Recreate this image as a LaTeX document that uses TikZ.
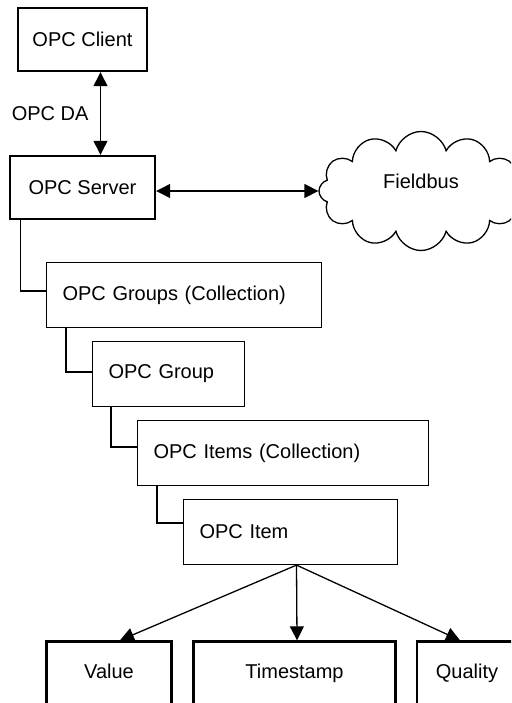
\documentclass[tikz,border=0pt]{standalone}
\usepackage{fontspec}
\setmainfont{Liberation Sans}
\usetikzlibrary{shapes.symbols,arrows.meta,positioning}

\begin{document}
\begin{tikzpicture}[x=1pt,y=-1pt,
  font=\fontsize{20}{24}\selectfont,
  >={Triangle[length=14pt,width=14pt]},
  endpoint/.style={rectangle,draw,line width=2.4pt,minimum height=63pt,align=center},
  object/.style={rectangle,draw,line width=1.2pt,minimum height=65pt,inner xsep=16pt,align=left},
  leaf/.style={rectangle,draw,line width=2.4pt,minimum height=63pt,align=center,text height=15pt,text depth=4pt},
  link/.style={line width=1.3pt},
]
\useasboundingbox (0,0) rectangle (511,703);
\clip (0,0) rectangle (511,703);

\node[endpoint,minimum width=129pt] (client) at (82.5,39.5) {OPC Client};
\node[endpoint,minimum width=145pt] (server) at (82.5,187.5) {OPC Server};
\node[cloud,cloud puffs=12,cloud ignores aspect,draw,line width=1.3pt,minimum width=204pt,minimum height=119pt,text height=14pt,text depth=18pt] (fieldbus) at (421,191) {Fieldbus};

\node[object,text width=243pt] (groups) at (184,295) {OPC Groups (Collection)};
\node[object,text width=120pt] (group) at (168.5,374) {OPC Group};
\node[object,text width=259pt] (items) at (283,453) {OPC Items (Collection)};
\node[object,text width=182pt] (item) at (290.5,532) {OPC Item};

\node[leaf,minimum width=125pt] (value) at (109,673) {Value};
\node[leaf,minimum width=202pt] (stamp) at (294.5,673) {Timestamp};
\node[leaf,minimum width=100pt] (quality) at (467,673) {Quality};

% client / server / fieldbus
\draw[link,<->] ([xshift=18pt]client.south) -- node[left=8pt]{OPC DA} ([xshift=18pt]server.north);
\draw[link,<->] (server.east |- fieldbus.west) -- (fieldbus.west);

% object tree
\draw[link] ([xshift=12pt]server.south west) |- ([yshift=4pt]groups.west);
\draw[link] ([xshift=20pt]groups.south west) |- ([yshift=2pt]group.west);
\draw[link] ([xshift=19pt]group.south west) |- ([yshift=6pt]items.west);
\draw[link] ([xshift=20pt]items.south west) |- ([yshift=9pt]item.west);

% item properties
\draw[link,->] ([xshift=6pt]item.south) -- ([xshift=11pt]value.north);
\draw[link,->] ([xshift=6pt]item.south) -- ([xshift=2.5pt]stamp.north);
\draw[link,->] ([xshift=6pt]item.south) -- ([xshift=-7pt]quality.north);

\end{tikzpicture}
\end{document}
